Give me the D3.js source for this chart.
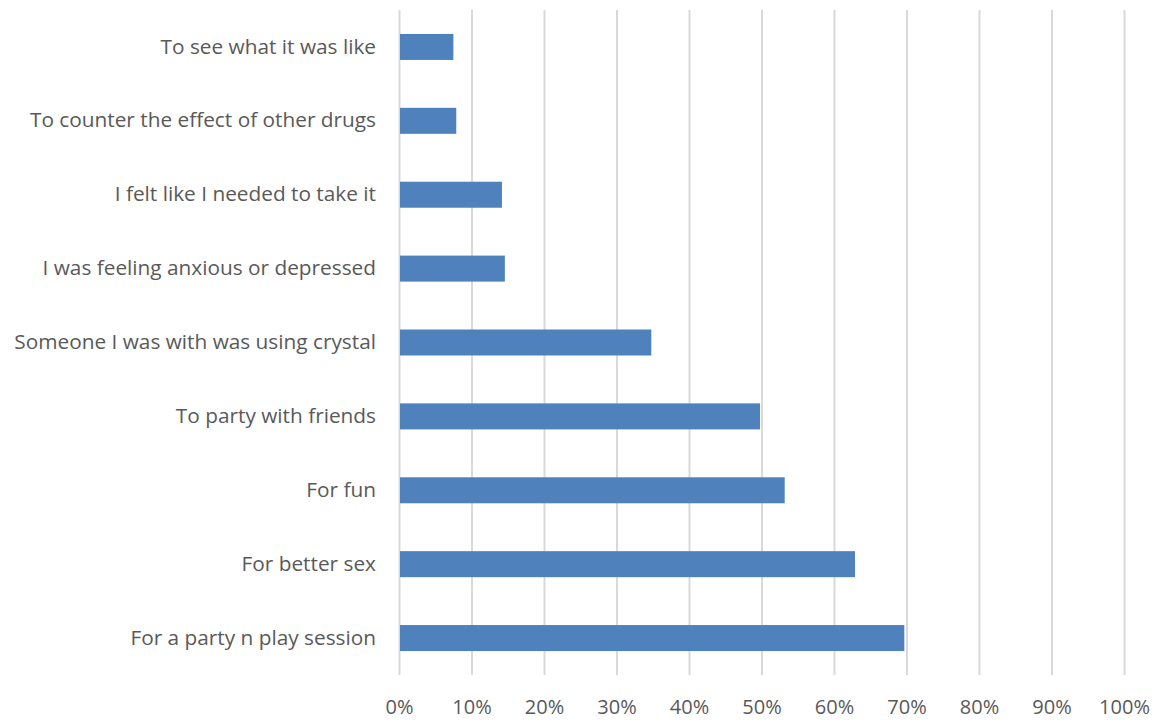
<!DOCTYPE html>
<html>
<head>
<meta charset="utf-8">
<script src="https://cdn.jsdelivr.net/npm/d3@7"></script>
<style>
  body { margin: 0; background: #fff; }
  text { font-family: "Open Sans", sans-serif; fill: #595959; }
</style>
</head>
<body>
<div id="chart"></div>
<script>
// Reasons for using crystal (share of respondents)
const categories = [
  "To see what it was like",
  "To counter the effect of other drugs",
  "I felt like I needed to take it",
  "I was feeling anxious or depressed",
  "Someone I was with was using crystal",
  "To party with friends",
  "For fun",
  "For better sex",
  "For a party n play session"
];
const values = [0.075, 0.079, 0.142, 0.146, 0.348, 0.498, 0.532, 0.629, 0.697];
const ticks = [0, 0.1, 0.2, 0.3, 0.4, 0.5, 0.6, 0.7, 0.8, 0.9, 1.0];

const width = 1160, height = 722;
const margin = {top: 10, right: 35, bottom: 47, left: 399};

const svg = d3.select("#chart").append("svg")
  .attr("width", width)
  .attr("height", height);

const x = d3.scaleLinear()
  .domain([0, 1])
  .range([margin.left, width - margin.right - 1]);

const y = d3.scaleBand()
  .domain(categories)
  .range([margin.top, height - margin.bottom])
  .paddingInner(0.648)
  .paddingOuter(0.324);

// gridlines
svg.append("g")
  .selectAll("line")
  .data(ticks)
  .enter().append("line")
  .attr("x1", d => x(d) + 0.5)
  .attr("x2", d => x(d) + 0.5)
  .attr("y1", margin.top)
  .attr("y2", height - margin.bottom)
  .attr("stroke", "#d9d9d9")
  .attr("stroke-width", 2);

// bars
svg.append("g")
  .selectAll("rect")
  .data(values)
  .enter().append("rect")
  .attr("x", x(0) + 1)
  .attr("y", (d, i) => y(categories[i]))
  .attr("width", d => x(d) - x(0) - 1)
  .attr("height", y.bandwidth())
  .attr("fill", "#4f81bd");

// x axis labels
const xAxis = d3.axisBottom(x)
  .tickValues(ticks)
  .tickFormat(d3.format(".0%"))
  .tickSize(0)
  .tickPadding(0);

svg.append("g")
  .attr("transform", `translate(0,${height - margin.bottom + 33})`)
  .call(xAxis)
  .call(g => g.select(".domain").remove())
  .selectAll("text")
  .attr("dy", "0.32em")
  .style("font-size", "20px")
  .style("font-family", "'Open Sans', sans-serif")
  .attr("fill", "#595959");

// category labels
const yAxis = d3.axisLeft(y).tickSize(0).tickPadding(23);

svg.append("g")
  .attr("transform", `translate(${margin.left},0)`)
  .call(yAxis)
  .call(g => g.select(".domain").remove())
  .selectAll("text")
  .style("font-size", "20.8px")
  .style("font-family", "'Open Sans', sans-serif")
  .attr("fill", "#595959");
</script>
</body>
</html>
